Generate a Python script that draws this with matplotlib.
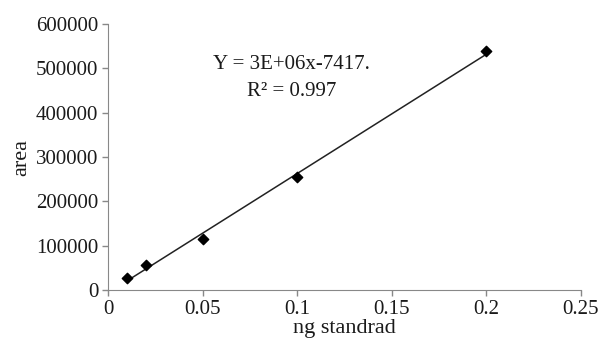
import numpy as np
import matplotlib.pyplot as plt

# calibration data
ng_standard = [0.01, 0.02, 0.05, 0.1, 0.2]
area = [27000, 56000, 115000, 254000, 538000]
x_ticks = [0, 0.05, 0.1, 0.15, 0.2, 0.25]
y_ticks = [0, 100000, 200000, 300000, 400000, 500000, 600000]

plt.rcParams['font.family'] = ['Liberation Serif', 'DejaVu Serif']

fig = plt.figure(figsize=(6.05, 3.38), dpi=100)
ax = fig.add_axes([0.1785, 0.142, 0.7815, 0.787])

# linear trend line over the data range
slope, intercept = np.polyfit(ng_standard, area, 1)
xs = np.array([min(ng_standard), max(ng_standard)])
ax.plot(xs, slope * xs + intercept, color='#222222', lw=1.1, zorder=2)

ax.scatter(ng_standard, area, marker='D', s=28, color='black', zorder=3)

ax.set_xlim(0, 0.25)
ax.set_ylim(0, 600000)
ax.set_xticks(x_ticks)
ax.set_xticklabels(['0', '0.05', '0.1', '0.15', '0.2', '0.25'])
ax.set_yticks(y_ticks)
ax.set_yticklabels([str(v) for v in y_ticks])

for s in ['top', 'right']:
    ax.spines[s].set_visible(False)
for s in ['left', 'bottom']:
    ax.spines[s].set_color('#888888')
ax.tick_params(colors='#888888', labelcolor='#1a1a1a', labelsize=15, length=4, width=1, pad=3)

ax.set_xlabel('ng standrad', fontsize=16, color='#1a1a1a', labelpad=0)
ax.set_ylabel('area', fontsize=16, color='#1a1a1a', labelpad=3)

ax.text(0.097, 508000, 'Y = 3E+06x-7417.', fontsize=15, ha='center', va='center', color='#1a1a1a')
ax.text(0.097, 447000, 'R² = 0.997', fontsize=15, ha='center', va='center', color='#1a1a1a')

fig.savefig('out.png', dpi=100)
